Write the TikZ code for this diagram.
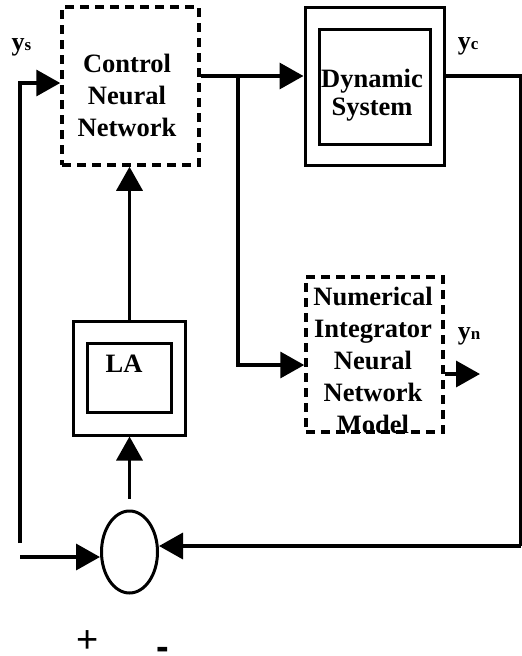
\documentclass[tikz,border=0pt]{standalone}
\usepackage{fontspec}
\setmainfont{Liberation Serif}
\newfontfamily\signfont{Liberation Sans}
\usetikzlibrary{arrows.meta,shapes.geometric}
\begin{document}
\begin{tikzpicture}[x=1pt,y=-1pt,
  line width=3.5pt,
  tip/.style={-{Triangle[length=24pt,width=26pt]}},
  dbox/.style={draw, dash pattern=on 9pt off 6pt, line width=3.5pt, minimum width=137pt, minimum height=158pt, inner sep=0pt},
  sbox/.style={draw, line width=3pt, inner sep=0pt},
  lbl/.style={font=\fontsize{26.5}{32}\selectfont\bfseries, align=center, inner sep=0pt},
  sig/.style={font=\fontsize{26}{32}\selectfont\bfseries, anchor=base west, inner sep=0pt},
  pm/.style={font=\fontsize{38}{40}\selectfont\signfont, inner sep=0pt},
]
\useasboundingbox (0,0) rectangle (522,656);
% blocks
\node[dbox] (cnn) at (130.5,86) {};
\node[lbl] (cnnt) at (127,95) {Control\\Neural\\Network};
\node[sbox, minimum width=139pt, minimum height=158pt] (dso) at (374.5,86) {};
\node[sbox, minimum width=111pt, minimum height=115pt] (dsi) at (374.5,86.5) {};
\node[lbl, font=\fontsize{26.5}{28}\selectfont\bfseries] (dst) at (372,95) {Dynamic\\System};
\node[dbox, minimum height=155pt] (ninn) at (374.5,354.5) {};
\node[lbl] (ninnt) at (373,360) {Numerical\\Integrator\\Neural\\Network\\Model};
\node[sbox, minimum width=112pt, minimum height=114pt] (lao) at (129.5,378) {};
\node[sbox, minimum width=84pt, minimum height=69pt] (lai) at (129.5,377.5) {};
\node[lbl] (lat) at (124,364) {LA};
\node[draw, ellipse, line width=3pt, minimum width=56pt, minimum height=82pt, inner sep=0pt] (sum) at (129.5,552) {};
% labels
\node[sig] (ys) at (10,50) {y{\fontsize{17}{17}\selectfont s}};
\node[sig] (ycl) at (456,49) {y{\fontsize{17}{17}\selectfont c}};
\node[sig] (ynl) at (456,339) {y{\fontsize{17}{17}\selectfont n}};
\node[pm] (plus) at (88,642) {+};
\node[pm, font=\fontsize{38}{40}\selectfont\signfont\bfseries] (minus) at (163,653) {-};
% coordinates
\coordinate (yst) at (20,83);
\coordinate (ysb) at (20,543);
\coordinate (sin) at (20,557);
\coordinate (j) at (238,76);
\coordinate (jb) at (238,365);
\coordinate (yc) at (521,76);
\coordinate (fbr) at (521,546);
\coordinate (yno) at (480,374);
% connectors
\draw[tip] (ysb) -- (yst) -- (yst -| cnn.west);
\draw[tip] (sin) -- (sin -| sum.west);
\draw[tip, shorten <=11pt] (sum.north) -- (lao.south);
\draw[tip] (lao.north) -- (lao.north |- cnn.south);
\draw (cnn.east |- j) -- (j);
\draw[tip] (j) -- (j -| dso.west);
\draw[tip] (j) -- (jb) -- (jb -| ninn.west);
\draw (dso.east |- yc) -- (yc) -- (fbr);
\draw[tip] (fbr) -- (fbr -| sum.east);
\draw[tip] (ninn.east |- yno) -- (yno);
\end{tikzpicture}
\end{document}
